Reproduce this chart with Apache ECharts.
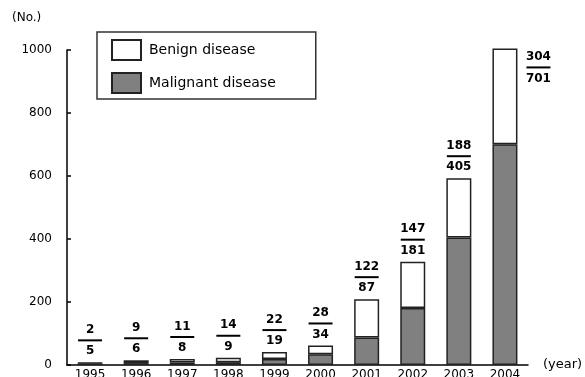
<!DOCTYPE html>
<html>
<head>
<meta charset="utf-8">
<script src="https://cdn.jsdelivr.net/npm/echarts@6/dist/echarts.min.js"></script>
<style>html,body{margin:0;padding:0;background:#fff}#c{width:585px;height:377px}</style>
</head>
<body>
<div id="c"></div>
<script>
var years = ['1995','1996','1997','1998','1999','2000','2001','2002','2003','2004'];
var benign = [2, 9, 11, 14, 22, 28, 122, 147, 188, 304];
var malignant = [5, 6, 8, 9, 19, 34, 87, 181, 405, 701];
var yTicks = [0, 200, 400, 600, 800, 1000];

var FONT = 'DejaVu Sans';
var rich = {
  a: {fontFamily: FONT, fontWeight: 'bold', fontSize: 12, color: '#000', lineHeight: 13, width: 26, align: 'center'},
  l: {height: 2, width: 24, backgroundColor: '#000', lineHeight: 8, align: 'center'},
  b: {fontFamily: FONT, fontWeight: 'bold', fontSize: 12, color: '#000', lineHeight: 14, width: 26, align: 'center'}
};

var benignData = benign.map(function (v, i) {
  var item = {value: v};
  if (i === years.length - 1) {
    item.label = {position: [33, 2]};
  }
  return item;
});

var chart = echarts.init(document.getElementById('c'), null, {renderer: 'canvas'});
chart.setOption({
  animation: false,
  backgroundColor: '#fff',
  grid: {left: 67, right: 57, top: 50, bottom: 12, containLabel: false, outerBoundsMode: 'none'},
  legend: {
    orient: 'vertical',
    left: 97, top: 32,
    padding: [7, 40, 5, 14],
    itemWidth: 29, itemHeight: 20, itemGap: 11,
    borderColor: '#333', borderWidth: 1.5,
    icon: 'rect',
    textStyle: {fontFamily: FONT, fontSize: 14, color: '#000', padding: [0, 0, 0, 3]},
    data: ['Benign disease', 'Malignant disease']
  },
  xAxis: {
    type: 'category',
    data: years,
    axisLine: {lineStyle: {color: '#000', width: 1.5}},
    axisTick: {inside: true, length: 4, lineStyle: {color: '#000', width: 1.5}},
    axisLabel: {fontFamily: FONT, fontSize: 12, color: '#000', margin: 4}
  },
  yAxis: {
    type: 'value',
    min: yTicks[0], max: yTicks[yTicks.length - 1], interval: 200,
    splitLine: {show: false},
    axisLine: {show: true, lineStyle: {color: '#000', width: 1.5}},
    axisTick: {show: true, inside: true, length: 4, lineStyle: {color: '#000', width: 1.5}},
    axisLabel: {fontFamily: FONT, fontSize: 12, color: '#000', margin: 15, formatter: function (v) { return String(v); }}
  },
  graphic: [
    {type: 'text', left: 12, top: 12, style: {text: '(No.)', font: '12px ' + FONT, fill: '#000'}},
    {type: 'text', left: 543, top: 358, style: {text: '(year)', font: '13px ' + FONT, fill: '#000'}}
  ],
  series: [
    {
      name: 'Malignant disease', type: 'bar', stack: 'all', barWidth: 25, clip: false,
      data: malignant,
      itemStyle: {color: '#808080', borderColor: '#222', borderWidth: 1.5}
    },
    {
      name: 'Benign disease', type: 'bar', stack: 'all', barWidth: 25, clip: false,
      data: benignData,
      itemStyle: {color: '#fff', borderColor: '#222', borderWidth: 1.5},
      label: {
        show: true, position: 'top', distance: 4,
        formatter: function (p) { return '{a|' + benign[p.dataIndex] + '}\n{l|}\n{b|' + malignant[p.dataIndex] + '}'; },
        rich: rich
      }
    }
  ]
});
</script>
</body>
</html>
